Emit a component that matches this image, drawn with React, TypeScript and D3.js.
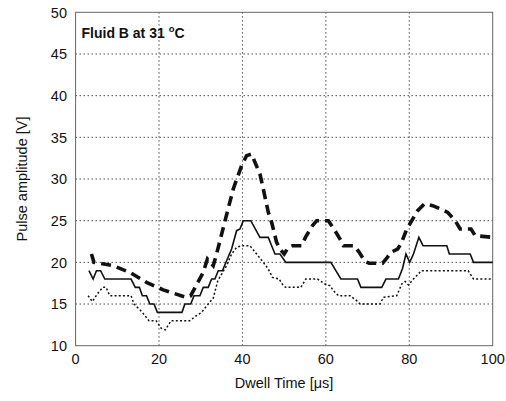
import React from "react";
import * as d3 from "d3";

const xTicks = [0, 20, 40, 60, 80, 100];
const yTicks = [10, 15, 20, 25, 30, 35, 40, 45, 50];

// Upper (thick dashed) curve
const dashT = [3.8, 4.4, 9, 13, 17, 21, 26.5, 27.6, 30.6, 31.6, 33, 33.8, 36.5, 37.8, 39.8, 41, 42.2, 43, 44.2, 45, 46.2, 47, 48.2, 49, 50, 51, 52, 54.2, 55.2, 56.8, 57.8, 60.6, 61.8, 63.4, 64.2, 66.8, 68, 69.4, 70.4, 73.6, 74.6, 75.6, 77.2, 78, 79.4, 80.6, 82, 83.6, 85.6, 87.6, 89.2, 91, 92.2, 94.8, 95.8, 100];
const dashV = [21, 20, 19.6, 18.8, 17.6, 16.7, 15.8, 16, 18.8, 20.4, 19.6, 21, 26.3, 28.8, 31.6, 32.8, 33, 32, 30.6, 28.8, 26, 24.8, 22.4, 21.6, 21, 21.8, 22, 22, 23.1, 24.4, 25, 25, 24.1, 22.8, 22, 22, 21.2, 20.1, 19.9, 19.9, 20.5, 21.2, 21.6, 22.2, 24, 25, 26.2, 27, 26.8, 26.4, 26, 25, 24, 24, 23.2, 23];

// Middle (solid) curve
const solidT = [3.2, 4.2, 5, 6, 7, 13.3, 14.3, 15.3, 16, 17, 17.8, 18.8, 19.6, 25.5, 26.2, 27.6, 28.4, 29.8, 30.6, 31.8, 32.6, 33.4, 34.2, 35.2, 36.2, 37.4, 38.6, 39.4, 40.2, 42, 44.2, 46.2, 47, 47.8, 49, 50.4, 61.2, 62.4, 63.6, 67.6, 68.4, 73.4, 74.4, 77.4, 78.4, 79.2, 80.1, 81, 82.3, 83.3, 89, 89.6, 94.6, 95.4, 100];
const solidV = [19, 18, 19, 19, 18, 18, 17, 17, 16, 16, 15, 15, 14, 14, 15, 15, 16, 16, 17, 17, 18, 18, 19, 19, 20.2, 21.6, 23.8, 24, 25, 25, 23, 23, 22, 21, 21, 20, 20, 19, 18, 18, 17, 17, 18, 18, 19.3, 21, 20, 21, 23, 22, 22, 21, 21, 20, 20];

// Lower (dotted) curve
const dotT = [3, 4, 5.2, 6.5, 7.3, 8.2, 13.3, 14, 16, 17.6, 19.3, 20.5, 21.5, 22.9, 27.4, 28.4, 30.2, 31.8, 33, 34.1, 36.2, 37.4, 38.6, 39.8, 41.8, 43.4, 45, 46.2, 47.2, 48.8, 49.8, 50.4, 54, 55.2, 58, 59.8, 61, 61.8, 63, 65.8, 67.4, 68.2, 73, 73.8, 77, 78.2, 79, 79.8, 81, 82.9, 94.1, 95.4, 100];
const dotV = [16, 15.3, 16.2, 17, 17, 16, 16, 15, 14, 13, 13, 12.1, 11.9, 13, 13, 13.4, 14, 15, 15.7, 17.8, 19.6, 21, 21.8, 22, 22, 21, 20, 19.2, 18.2, 18, 17.2, 17, 17, 18, 18, 17.4, 17.2, 16.6, 16, 16, 15.4, 15, 15, 15.8, 16, 17.4, 17.7, 17.3, 18, 19, 19, 18, 18];

const W = 506;
const H = 401;
const left = 75.6;
const right = 492.7;
const top = 12.3;
const bottom = 345.7;

export default function App() {
  const x = d3.scaleLinear().domain([0, 100]).range([left, right]);
  const y = d3.scaleLinear().domain([10, 50]).range([bottom, top]);
  const mk = (ts: number[], vs: number[]) =>
    d3
      .line<number>()
      .x((_, i) => x(ts[i]))
      .y((v) => y(v))(vs) as string;

  const font = "'Liberation Sans', Arial, sans-serif";

  return (
    <svg
      width={W}
      height={H}
      style={{ position: "absolute", left: 0, top: 0, background: "#fff" }}
      fontFamily={font}
    >
      <rect x={0} y={0} width={W} height={H} fill="#fff" />
      {/* grid */}
      {xTicks.slice(1, -1).map((t) => (
        <line
          key={"gx" + t}
          x1={x(t)}
          x2={x(t)}
          y1={top}
          y2={bottom}
          stroke="#222"
          strokeWidth={1}
          strokeDasharray="1.2,2.8"
        />
      ))}
      {yTicks.slice(1, -1).map((t) => (
        <line
          key={"gy" + t}
          x1={left}
          x2={right}
          y1={y(t)}
          y2={y(t)}
          stroke="#222"
          strokeWidth={1}
          strokeDasharray="1.2,2.8"
        />
      ))}
      {/* frame */}
      <rect
        x={left}
        y={top}
        width={right - left}
        height={bottom - top}
        fill="none"
        stroke="#666"
        strokeWidth={1}
      />
      {/* series */}
      <path d={mk(dotT, dotV)} fill="none" stroke="#111" strokeWidth={1.5} strokeDasharray="2,2.2" />
      <path d={mk(solidT, solidV)} fill="none" stroke="#111" strokeWidth={1.6} strokeLinejoin="miter" />
      <path d={mk(dashT, dashV)} fill="none" stroke="#111" strokeWidth={3.6} strokeDasharray="10,6" />
      {/* y tick labels */}
      {yTicks.map((t) => (
        <text key={"yl" + t} x={67} y={y(t) + 5.3} textAnchor="end" fontSize={14.5} fill="#111">
          {t}
        </text>
      ))}
      {/* x tick labels */}
      {xTicks.map((t) => (
        <text key={"xl" + t} x={x(t)} y={363.5} textAnchor="middle" fontSize={14.5} fill="#111">
          {t}
        </text>
      ))}
      {/* axis titles */}
      <text x={284} y={388} textAnchor="middle" fontSize={14.5} fill="#111">
        Dwell Time [μs]
      </text>
      <text
        transform={`translate(27,${(top + bottom) / 2}) rotate(-90)`}
        textAnchor="middle"
        fontSize={14.5}
        fill="#111"
      >
        Pulse amplitude [V]
      </text>
      {/* annotation */}
      <text x={81.5} y={38} fontSize={14} fontWeight="bold" fill="#111">
        Fluid B at 31{" "}
        <tspan dy={-6} fontSize={9.5}>
          o
        </tspan>
        <tspan dy={6}>C</tspan>
      </text>
    </svg>
  );
}
